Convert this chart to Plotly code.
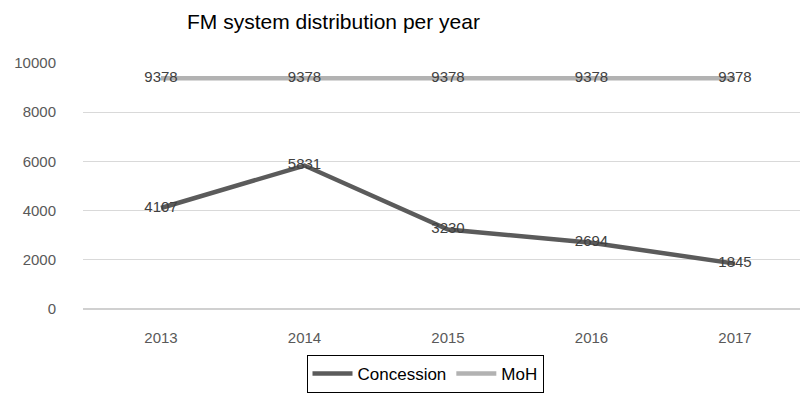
import plotly.graph_objects as go

years = ["2013", "2014", "2015", "2016", "2017"]
concession = [4107, 5831, 3230, 2694, 1845]
moh = [9378, 9378, 9378, 9378, 9378]
y_ticks = [0, 2000, 4000, 6000, 8000, 10000]

xi = list(range(len(years)))
FONT = "Liberation Sans, Arial, Helvetica, sans-serif"

fig = go.Figure()
fig.add_trace(go.Scatter(
    x=xi, y=concession, name="Concession", mode="lines+text",
    line=dict(color="#5b5b5b", width=4.5),
    text=[str(v) for v in concession], textposition="middle center",
    textfont=dict(family=FONT, size=15, color="#404040"),
))
fig.add_trace(go.Scatter(
    x=xi, y=moh, name="MoH", mode="lines+text",
    line=dict(color="#b2b2b2", width=4.5),
    text=[str(v) for v in moh], textposition="middle center",
    textfont=dict(family=FONT, size=15, color="#404040"),
))

fig.update_layout(
    width=800, height=395,
    margin=dict(l=83, r=0, t=63, b=86, autoexpand=False),
    paper_bgcolor="white", plot_bgcolor="white",
    font=dict(family=FONT, color="#595959"),
    title=dict(text="FM system distribution per year",
               font=dict(family=FONT, size=21, color="#000000"),
               x=187/800, xanchor="left", xref="container",
               y=1-22/395, yanchor="middle", yref="container"),
    showlegend=True,
    legend=dict(orientation="h", x=425/800, xanchor="center", xref="container",
                y=1-393/395, yanchor="bottom", yref="container",
                bordercolor="#000000", borderwidth=1,
                font=dict(family=FONT, size=17, color="#000000"),
                itemwidth=40, tracegroupgap=0),
    xaxis=dict(range=[-(161-83)/143.5, 4 + (800-735)/143.5],
               tickmode="array", tickvals=xi, ticktext=years,
               showgrid=False, zeroline=False, showline=False,
               ticks="", ticklabelstandoff=18,
               tickfont=dict(family=FONT, size=15, color="#595959")),
    yaxis=dict(range=[0, 10000], tickmode="array", tickvals=y_ticks,
               ticktext=[str(v) for v in y_ticks],
               showgrid=True, gridcolor="#d9d9d9", gridwidth=1,
               zeroline=True, zerolinecolor="#d0d0d0", zerolinewidth=2,
               showline=False, ticks="", ticklabelstandoff=26,
               tickfont=dict(family=FONT, size=15, color="#595959")),
)

fig.write_html("out.html")
